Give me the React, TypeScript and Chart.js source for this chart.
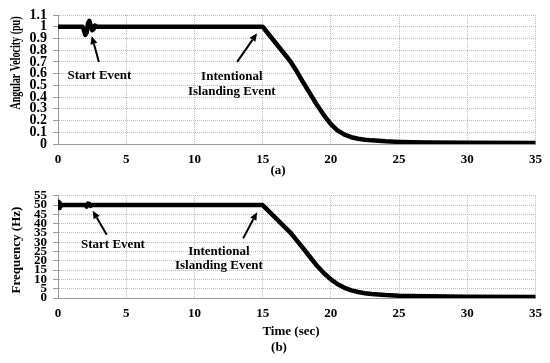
import React, { useEffect, useRef } from "react";
import { Chart, registerables } from "chart.js";
Chart.register(...registerables);

const FONT = '"Liberation Serif", "Times New Roman", serif';

// tick values
const xTicks = [0, 5, 10, 15, 20, 25, 30, 35];
const velocityTicks = [0, 0.1, 0.2, 0.3, 0.4, 0.5, 0.6, 0.7, 0.8, 0.9, 1, 1.1];
const frequencyTicks = [0, 5, 10, 15, 20, 25, 30, 35, 40, 45, 50, 55];

// (a) angular velocity (pu)
const timeA = [0, 1.8, 1.9, 2.0, 2.1, 2.2, 2.3, 2.4, 2.5, 2.6, 2.7, 2.85, 3.0, 15, 16, 17, 17.5, 18, 18.5, 19, 19.5, 20, 20.5, 21, 21.5, 22, 22.5, 23, 24, 25, 27, 30, 35];
const velocityA = [1, 1, 0.97, 0.93, 0.95, 1.03, 1.05, 1.01, 0.97, 0.98, 1.01, 1.0, 1.0, 1.0, 0.855, 0.71, 0.62, 0.52, 0.425, 0.33, 0.245, 0.17, 0.115, 0.08, 0.058, 0.045, 0.037, 0.031, 0.023, 0.018, 0.013, 0.01, 0.008];

// (b) frequency (Hz)
const timeB = [0, 0.04, 0.08, 0.12, 0.18, 0.25, 2.0, 2.1, 2.2, 2.3, 2.4, 2.5, 15, 16, 17, 17.5, 18, 18.5, 19, 19.5, 20, 20.5, 21, 21.5, 22, 22.5, 23, 24, 25, 27, 30, 35];
const frequencyB = [50, 51.8, 48.4, 51.2, 49.3, 50, 50, 49.2, 50.8, 50.6, 49.6, 50, 50, 42.7, 35.5, 31, 26.5, 21.8, 17.2, 13.3, 10, 7.4, 5.5, 4.1, 3.2, 2.6, 2.2, 1.6, 1.2, 0.9, 0.7, 0.6];

const annotPlugin = {
  id: "annot",
  afterDatasetsDraw(chart: any, _args: any, opts: any) {
    const { ctx } = chart;
    const x = chart.scales.x;
    const y = chart.scales.y;
    ctx.save();
    ctx.fillStyle = "#000";
    ctx.strokeStyle = "#000";
    ctx.textAlign = "center";
    ctx.textBaseline = "middle";
    ctx.font = `bold 13px ${FONT}`;
    for (const t of opts.texts || []) {
      ctx.fillText(t.text, x.getPixelForValue(t.x), y.getPixelForValue(t.y));
    }
    for (const a of opts.arrows || []) {
      const x1 = x.getPixelForValue(a.x1);
      const y1 = y.getPixelForValue(a.y1);
      const x2 = x.getPixelForValue(a.x2);
      const y2 = y.getPixelForValue(a.y2);
      const ang = Math.atan2(y2 - y1, x2 - x1);
      const hl = 8;
      const hw = 3.5;
      const bx = x2 - hl * Math.cos(ang);
      const by = y2 - hl * Math.sin(ang);
      ctx.lineWidth = 2;
      ctx.beginPath();
      ctx.moveTo(x1, y1);
      ctx.lineTo(bx, by);
      ctx.stroke();
      ctx.beginPath();
      ctx.moveTo(x2, y2);
      ctx.lineTo(bx + hw * Math.sin(ang), by - hw * Math.cos(ang));
      ctx.lineTo(bx - hw * Math.sin(ang), by + hw * Math.cos(ang));
      ctx.closePath();
      ctx.fill();
    }
    for (const l of opts.labels || []) {
      ctx.save();
      ctx.font = `bold ${l.size}px ${FONT}`;
      ctx.translate(l.px, l.py);
      if (l.rotate) ctx.rotate(-Math.PI / 2);
      ctx.scale(l.sx || 1, 1);
      ctx.fillText(l.text, 0, 0);
      ctx.restore();
    }
    ctx.restore();
  },
};

function makeConfig(
  xs: number[],
  ys: number[],
  yTicks: number[],
  yMax: number,
  yFontSize: number,
  padTop: number,
  xAxisHeight: number,
  annot: any
) {
  const gridColor = "#bcbcbc";
  const axisColor = "#9a9a9a";
  return {
    type: "line" as const,
    data: {
      datasets: [
        {
          data: xs.map((t, i) => ({ x: t, y: ys[i] })),
          borderColor: "#000",
          borderWidth: 4.5,
          pointRadius: 0,
          tension: 0,
          fill: false,
          borderJoinStyle: "round" as const,
          borderCapStyle: "round" as const,
        },
      ],
    },
    options: {
      animation: false as const,
      responsive: false,
      layout: { padding: { top: padTop, right: 14, bottom: 0, left: 0 } },
      plugins: { legend: { display: false }, tooltip: { enabled: false }, annot },
      scales: {
        x: {
          type: "linear" as const,
          min: 0,
          max: 35,
          afterBuildTicks: (s: any) => {
            s.ticks = xTicks.map((v) => ({ value: v }));
          },
          afterFit: (s: any) => {
            s.height = xAxisHeight;
          },
          ticks: {
            autoSkip: false,
            maxRotation: 0,
            padding: 8,
            color: "#000",
            font: { family: FONT, size: 13, weight: "bold" as const },
            callback: (v: any) => String(v),
          },
          grid: { color: gridColor, drawTicks: false, lineWidth: 1 },
          border: { color: axisColor, width: 1, dash: [1, 1] },
        },
        y: {
          type: "linear" as const,
          min: 0,
          max: yMax,
          afterBuildTicks: (s: any) => {
            s.ticks = yTicks.map((v) => ({ value: v }));
          },
          afterFit: (s: any) => {
            s.width = 58;
          },
          ticks: {
            autoSkip: false,
            padding: 6,
            color: "#000",
            font: { family: FONT, size: yFontSize, weight: "bold" as const },
            callback: (v: any) => String(Math.round(v * 10) / 10),
          },
          grid: { color: gridColor, tickLength: 5, tickColor: axisColor, lineWidth: 1 },
          border: { color: axisColor, width: 1, dash: [1, 1] },
        },
      },
    },
    plugins: [annotPlugin],
  };
}

function Panel({ config, height, top }: { config: any; height: number; top: number }) {
  const ref = useRef<HTMLCanvasElement>(null);
  useEffect(() => {
    if (!ref.current) return;
    const chart = new Chart(ref.current, config);
    return () => chart.destroy();
  }, [config]);
  return (
    <canvas
      ref={ref}
      width={550}
      height={height}
      style={{ position: "absolute", left: 0, top, width: 550, height, display: "block" }}
    />
  );
}

const configA = makeConfig(timeA, velocityA, velocityTicks, 1.1, 14, 15, 38, {
  texts: [
    { text: "Start Event", x: 3.04, y: 0.58 },
    { text: "Intentional", x: 12.74, y: 0.571 },
    { text: "Islanding Event", x: 12.74, y: 0.443 },
  ],
  arrows: [
    { x1: 3.0, y1: 0.7, x2: 2.47, y2: 0.92 },
    { x1: 13.13, y1: 0.7, x2: 14.59, y2: 0.944 },
  ],
  labels: [
    { text: "(a)", px: 278, py: 171, size: 13 },
    { text: "Angular Velocity (pu)", px: 16, py: 63, size: 14, rotate: true, sx: 0.72 },
  ],
});

const configB = makeConfig(timeB, frequencyB, frequencyTicks, 55, 13, 8, 65, {
  texts: [
    { text: "Start Event", x: 4.03, y: 28.7 },
    { text: "Intentional", x: 11.79, y: 24.95 },
    { text: "Islanding Event", x: 11.79, y: 17.3 },
  ],
  arrows: [
    { x1: 3.57, y1: 34.1, x2: 2.54, y2: 47.0 },
    { x1: 13.57, y1: 32.1, x2: 14.59, y2: 46.2 },
  ],
  labels: [
    { text: "Time (sec)", px: 291, py: 150, size: 13 },
    { text: "(b)", px: 279, py: 166, size: 13 },
    { text: "Frequency (Hz)", px: 17, py: 68, size: 13, rotate: true, sx: 1 },
  ],
});

export default function App() {
  return (
    <div style={{ position: "absolute", left: 0, top: 0, width: 550, height: 363, background: "#fff" }}>
      <Panel config={configA} height={182} top={0} />
      <Panel config={configB} height={181} top={182} />
    </div>
  );
}
